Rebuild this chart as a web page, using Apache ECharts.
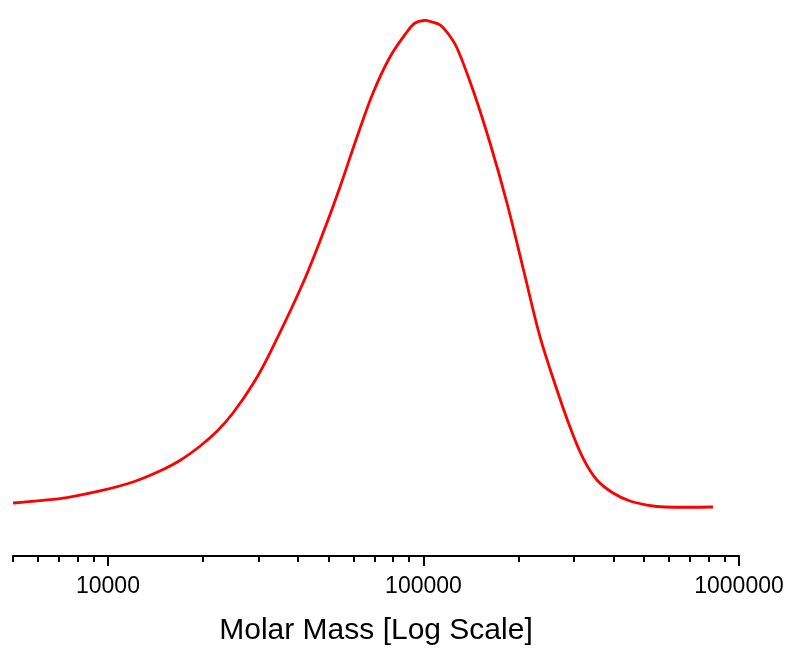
<!DOCTYPE html>
<html>
<head>
<meta charset="utf-8">
<script src="https://cdn.jsdelivr.net/npm/echarts@6/dist/echarts.min.js"></script>
<style>
html,body{margin:0;padding:0;background:#fff;}
#chart{width:792px;height:651px;}
</style>
</head>
<body>
<div id="chart"></div>
<script>
// Molar mass values (g/mol) along the curve
var molarMass = [5000, 6090, 7410, 9430, 12000, 14600, 16900, 19600, 22200, 24900,
  28800, 32600, 41500, 49400, 54360, 61550, 69180, 78300, 88600, 94000,
  100400, 106400, 112800, 119600, 127700, 143500, 162500, 183900, 206800, 234100,
  264900, 291300, 320300, 354700, 398800, 451200, 511000, 583100, 826800];
// Normalised detector signal
var signal = [0.0989, 0.1035, 0.1091, 0.1213, 0.1381, 0.1586, 0.1782, 0.2052, 0.2332, 0.2668,
  0.3209, 0.3787, 0.5093, 0.6213, 0.6884, 0.7817, 0.8638, 0.9310, 0.9776, 0.9944,
  0.9991, 0.9963, 0.9907, 0.9748, 0.9478, 0.8694, 0.7705, 0.6586, 0.5373, 0.4086,
  0.3097, 0.2407, 0.1828, 0.1418, 0.1175, 0.1026, 0.0951, 0.0914, 0.0914];
var majorTicks = [10000, 100000, 1000000];
var minorTicks = [5000, 6000, 7000, 8000, 9000,
  20000, 30000, 40000, 50000, 60000, 70000, 80000, 90000,
  200000, 300000, 400000, 500000, 600000, 700000, 800000, 900000];
var axisTitle = 'Molar Mass [Log Scale]';

var FONT = "'Liberation Sans', Arial, sans-serif";
var data = molarMass.map(function (m, i) { return [m, signal[i]]; });

var chart = echarts.init(document.getElementById('chart'), null, {renderer: 'canvas'});
chart.setOption({
  animation: false,
  backgroundColor: '#ffffff',
  grid: {left: 13, right: 53, top: 20, bottom: 95, containLabel: false},
  xAxis: [{
    type: 'log', logBase: 10, min: 5000, max: 1000000, position: 'bottom',
    name: axisTitle, nameLocation: 'middle', nameGap: 60,
    nameTextStyle: {fontFamily: FONT, fontSize: 30, color: '#000'},
    axisLine: {show: true, lineStyle: {color: '#000', width: 2}},
    axisTick: {show: true, customValues: majorTicks, length: 10, lineStyle: {color: '#000', width: 2}},
    axisLabel: {show: true, customValues: majorTicks, margin: 19, fontFamily: FONT, fontSize: 23, color: '#000',
      formatter: function (v) { return String(Math.round(v)); }},
    splitLine: {show: false}, minorTick: {show: false}
  }, {
    type: 'log', logBase: 10, min: 5000, max: 1000000, position: 'bottom', gridIndex: 0,
    axisLine: {show: false},
    axisTick: {show: true, customValues: minorTicks, length: 6, lineStyle: {color: '#000', width: 2}},
    axisLabel: {show: false},
    splitLine: {show: false}
  }],
  yAxis: {
    type: 'value', min: 0, max: 1, show: false
  },
  series: [{
    type: 'custom', xAxisIndex: 0, yAxisIndex: 0,
    data: [data[0]],
    encode: {x: 0, y: 1},
    renderItem: function (params, api) {
      var pts = data.map(function (d) { return api.coord(d); });
      return {
        type: 'polyline',
        shape: {points: pts, smooth: 0.35},
        style: {stroke: '#ff0000', lineWidth: 2.8, fill: null, lineJoin: 'round'},
        silent: true
      };
    }
  }]
});
</script>
</body>
</html>
